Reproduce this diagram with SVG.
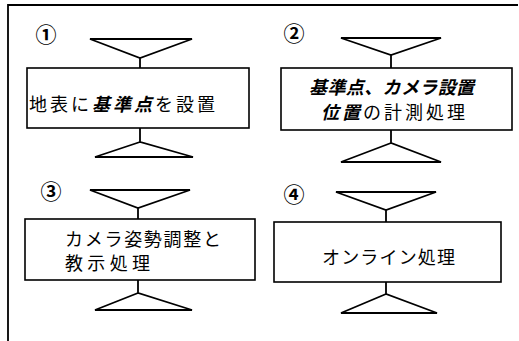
<svg xmlns="http://www.w3.org/2000/svg" width="519" height="341" viewBox="0 0 519 341">
<style>
.ln{fill:none;stroke:#000;stroke-width:1.8;stroke-linejoin:miter}
.box{fill:#fff;stroke:#000;stroke-width:1.6}
.t{font-family:"Noto Sans CJK JP","Noto Sans CJK SC",sans-serif;font-size:18px;fill:#000}
.num{font-family:"Noto Sans CJK JP","DejaVu Sans",sans-serif;font-size:21px;fill:#000;font-weight:bold}
.bi{font-weight:bold;font-style:italic}
</style>
<rect width="519" height="341" fill="#fff"/>
<g id="frame">
<path class="ln" d="M8 341 V5 H518"/>
</g>
<g id="connectors">
<path class="ln" d="M90 39 H192 L140 58 Z M140 58 V68 M140 128 V142 M140 142 L95 157 H193 Z"/>
<path class="ln" d="M341 38 H441 L391 55 Z M391 55 V68 M391 130 V143 M391 143 L341 162 H441 Z"/>
<path class="ln" d="M90 190 H190 L138 208 Z M138 208 V219 M138 280 V293 M138 293 L95 310 H192 Z"/>
<path class="ln" d="M336 192 H436 L386 210 Z M386 210 V222 M386 282 V294 M386 294 L341 313 H437 Z"/>
</g>
<g id="node1">
<text class="num" x="46" y="42" text-anchor="middle">①</text>
<rect class="box" x="27" y="68" width="222" height="60"/>
<text class="t" x="29" y="111" textLength="186" lengthAdjust="spacing">地表に<tspan class="bi">基準点</tspan>を設置</text>
</g>
<g id="node2">
<text class="num" x="294" y="41" text-anchor="middle">②</text>
<rect class="box" x="281" y="68" width="231" height="62"/>
<text class="t bi" x="309" y="94" textLength="165" lengthAdjust="spacing">基準点、カメラ設置</text>
<text class="t" x="321" y="119" textLength="144" lengthAdjust="spacing"><tspan class="bi">位置</tspan>の計測処理</text>
</g>
<g id="node3">
<text class="num" x="51" y="199" text-anchor="middle">③</text>
<rect class="box" x="25" y="219" width="230" height="61"/>
<text class="t" x="65" y="246" textLength="156" lengthAdjust="spacing">カメラ姿勢調整と</text>
<text class="t" x="65" y="270" textLength="85" lengthAdjust="spacing">教示処理</text>
</g>
<g id="node4">
<text class="num" x="294" y="202" text-anchor="middle">④</text>
<rect class="box" x="274" y="222" width="227" height="60"/>
<text class="t" x="322" y="264" textLength="133" lengthAdjust="spacing">オンライン処理</text>
</g>
</svg>
